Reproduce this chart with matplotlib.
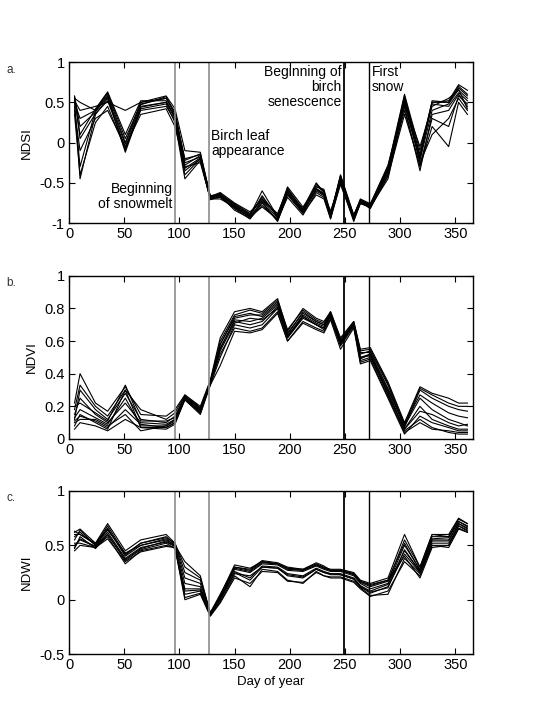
import matplotlib
matplotlib.use("Agg")
import matplotlib.pyplot as plt

plt.rcParams['font.family'] = ['Liberation Sans', 'DejaVu Sans']

# ── data ──────────────────────────────────────────────────────────────────────

days = [5, 10, 24, 35, 51, 65, 88, 96, 105, 119, 128, 137, 150, 164, 175, 189,
        198, 212, 224, 231, 237, 246, 258, 264, 273, 289, 304, 318, 329, 344,
        353, 361]

ndsi = [
    [0.55, 0.50, 0.40, 0.62, 0.05, 0.48, 0.55, 0.35, -0.20, -0.15, -0.68, -0.65, -0.78, -0.90, -0.60, -0.92, -0.60, -0.82, -0.50, -0.62, -0.90, -0.40, -0.90, -0.72, -0.78, -0.35, 0.55, -0.20, 0.50, 0.50, 0.70, 0.60],
    [0.50, -0.45, 0.35, 0.55, -0.10, 0.45, 0.50, 0.30, -0.35, -0.20, -0.70, -0.68, -0.82, -0.95, -0.75, -0.98, -0.65, -0.88, -0.65, -0.70, -0.95, -0.50, -0.98, -0.75, -0.80, -0.45, 0.45, -0.35, 0.35, 0.40, 0.60, 0.45],
    [0.45, -0.30, 0.40, 0.60, 0.00, 0.50, 0.55, 0.38, -0.25, -0.18, -0.66, -0.64, -0.76, -0.88, -0.70, -0.90, -0.55, -0.80, -0.55, -0.58, -0.88, -0.45, -0.92, -0.70, -0.76, -0.30, 0.60, -0.10, 0.50, 0.52, 0.72, 0.65],
    [0.58, 0.20, 0.38, 0.58, -0.12, 0.42, 0.48, 0.25, -0.45, -0.22, -0.70, -0.70, -0.80, -0.92, -0.80, -0.95, -0.62, -0.86, -0.60, -0.66, -0.92, -0.42, -0.95, -0.74, -0.82, -0.40, 0.50, -0.25, 0.10, 0.30, 0.55, 0.40],
    [0.52, 0.40, 0.45, 0.50, 0.40, 0.50, 0.58, 0.42, -0.10, -0.12, -0.67, -0.62, -0.75, -0.86, -0.72, -0.88, -0.58, -0.84, -0.58, -0.64, -0.85, -0.48, -0.90, -0.71, -0.77, -0.28, 0.50, -0.05, 0.45, 0.55, 0.65, 0.55],
    [0.40, -0.10, 0.30, 0.40, -0.05, 0.35, 0.42, 0.20, -0.30, -0.25, -0.69, -0.66, -0.84, -0.94, -0.78, -0.96, -0.68, -0.90, -0.62, -0.68, -0.93, -0.52, -0.96, -0.76, -0.80, -0.38, 0.40, -0.30, 0.20, -0.05, 0.50, 0.35],
    [0.55, 0.10, 0.42, 0.63, 0.10, 0.52, 0.52, 0.32, -0.28, -0.16, -0.68, -0.63, -0.79, -0.91, -0.66, -0.93, -0.62, -0.85, -0.52, -0.60, -0.91, -0.44, -0.93, -0.73, -0.79, -0.32, 0.58, -0.15, 0.52, 0.50, 0.68, 0.58],
    [0.35, -0.40, 0.25, 0.45, -0.08, 0.40, 0.45, 0.28, -0.40, -0.20, -0.71, -0.67, -0.81, -0.93, -0.74, -0.97, -0.64, -0.87, -0.58, -0.65, -0.94, -0.46, -0.94, -0.74, -0.81, -0.42, 0.35, -0.28, 0.30, 0.20, 0.58, 0.48],
    [0.50, 0.30, 0.40, 0.56, -0.02, 0.47, 0.57, 0.36, -0.22, -0.14, -0.67, -0.65, -0.77, -0.89, -0.68, -0.91, -0.57, -0.83, -0.54, -0.61, -0.89, -0.41, -0.91, -0.72, -0.77, -0.33, 0.52, -0.18, 0.48, 0.45, 0.62, 0.52],
    [0.57, 0.05, 0.36, 0.52, -0.06, 0.44, 0.50, 0.33, -0.32, -0.19, -0.69, -0.66, -0.80, -0.92, -0.72, -0.94, -0.61, -0.86, -0.57, -0.63, -0.90, -0.47, -0.93, -0.73, -0.79, -0.36, 0.48, -0.22, 0.40, 0.48, 0.66, 0.42],
]

ndvi = [
    [0.22, 0.40, 0.22, 0.17, 0.32, 0.15, 0.14, 0.18, 0.27, 0.20, 0.36, 0.62, 0.78, 0.80, 0.78, 0.86, 0.66, 0.80, 0.74, 0.72, 0.78, 0.62, 0.72, 0.55, 0.56, 0.35, 0.10, 0.32, 0.28, 0.25, 0.22, 0.22],
    [0.12, 0.30, 0.18, 0.12, 0.28, 0.12, 0.10, 0.14, 0.26, 0.18, 0.34, 0.58, 0.74, 0.76, 0.76, 0.84, 0.64, 0.78, 0.72, 0.70, 0.77, 0.60, 0.71, 0.52, 0.54, 0.33, 0.07, 0.30, 0.25, 0.20, 0.18, 0.17],
    [0.08, 0.15, 0.10, 0.06, 0.30, 0.07, 0.07, 0.10, 0.25, 0.17, 0.33, 0.50, 0.70, 0.68, 0.70, 0.80, 0.62, 0.74, 0.70, 0.68, 0.76, 0.58, 0.70, 0.48, 0.50, 0.28, 0.05, 0.12, 0.07, 0.04, 0.03, 0.03],
    [0.15, 0.25, 0.15, 0.10, 0.22, 0.10, 0.09, 0.12, 0.26, 0.18, 0.35, 0.55, 0.73, 0.72, 0.74, 0.82, 0.63, 0.76, 0.71, 0.69, 0.76, 0.59, 0.71, 0.50, 0.52, 0.30, 0.08, 0.25, 0.18, 0.12, 0.10, 0.08],
    [0.10, 0.12, 0.12, 0.08, 0.15, 0.05, 0.08, 0.11, 0.24, 0.16, 0.34, 0.52, 0.68, 0.66, 0.68, 0.78, 0.60, 0.72, 0.68, 0.66, 0.74, 0.57, 0.69, 0.47, 0.49, 0.26, 0.04, 0.10, 0.06, 0.05, 0.04, 0.04],
    [0.18, 0.33, 0.20, 0.14, 0.30, 0.18, 0.12, 0.16, 0.27, 0.19, 0.35, 0.60, 0.76, 0.79, 0.77, 0.85, 0.67, 0.79, 0.73, 0.71, 0.78, 0.61, 0.72, 0.54, 0.55, 0.34, 0.09, 0.31, 0.27, 0.22, 0.20, 0.20],
    [0.13, 0.18, 0.13, 0.09, 0.25, 0.08, 0.08, 0.12, 0.25, 0.17, 0.34, 0.56, 0.72, 0.70, 0.72, 0.81, 0.62, 0.75, 0.70, 0.68, 0.76, 0.58, 0.70, 0.50, 0.51, 0.29, 0.06, 0.20, 0.12, 0.08, 0.06, 0.06],
    [0.06, 0.10, 0.08, 0.05, 0.12, 0.07, 0.06, 0.09, 0.24, 0.15, 0.33, 0.45, 0.66, 0.65, 0.67, 0.77, 0.60, 0.71, 0.67, 0.65, 0.73, 0.55, 0.68, 0.46, 0.48, 0.25, 0.03, 0.14, 0.10, 0.07, 0.05, 0.05],
    [0.20, 0.22, 0.16, 0.11, 0.33, 0.11, 0.11, 0.13, 0.26, 0.19, 0.35, 0.58, 0.75, 0.77, 0.75, 0.83, 0.65, 0.77, 0.72, 0.70, 0.77, 0.60, 0.71, 0.53, 0.53, 0.31, 0.09, 0.27, 0.22, 0.16, 0.14, 0.13],
    [0.11, 0.14, 0.11, 0.07, 0.18, 0.09, 0.07, 0.10, 0.25, 0.16, 0.34, 0.54, 0.71, 0.74, 0.73, 0.80, 0.63, 0.75, 0.70, 0.67, 0.75, 0.59, 0.70, 0.49, 0.52, 0.27, 0.06, 0.17, 0.15, 0.10, 0.08, 0.09],
]

ndwi = [
    [0.62, 0.65, 0.52, 0.70, 0.45, 0.55, 0.60, 0.52, 0.30, 0.20, -0.12, 0.05, 0.30, 0.28, 0.36, 0.34, 0.30, 0.28, 0.33, 0.30, 0.28, 0.28, 0.25, 0.18, 0.15, 0.20, 0.60, 0.30, 0.60, 0.60, 0.75, 0.70],
    [0.45, 0.50, 0.48, 0.58, 0.33, 0.45, 0.50, 0.48, 0.00, 0.05, -0.15, -0.02, 0.22, 0.12, 0.28, 0.26, 0.18, 0.15, 0.26, 0.22, 0.20, 0.20, 0.16, 0.10, 0.03, 0.08, 0.35, 0.22, 0.50, 0.48, 0.65, 0.62],
    [0.58, 0.62, 0.50, 0.66, 0.40, 0.50, 0.56, 0.50, 0.15, 0.12, -0.13, 0.02, 0.28, 0.25, 0.33, 0.32, 0.27, 0.26, 0.31, 0.28, 0.26, 0.26, 0.22, 0.15, 0.10, 0.15, 0.50, 0.28, 0.58, 0.58, 0.72, 0.68],
    [0.50, 0.55, 0.49, 0.62, 0.38, 0.48, 0.53, 0.49, 0.05, 0.08, -0.14, 0.00, 0.25, 0.18, 0.30, 0.29, 0.22, 0.20, 0.28, 0.25, 0.23, 0.23, 0.19, 0.12, 0.06, 0.12, 0.42, 0.25, 0.52, 0.52, 0.68, 0.64],
    [0.60, 0.60, 0.51, 0.68, 0.42, 0.52, 0.58, 0.51, 0.20, 0.15, -0.12, 0.03, 0.29, 0.26, 0.34, 0.33, 0.28, 0.27, 0.32, 0.29, 0.27, 0.27, 0.23, 0.16, 0.12, 0.17, 0.55, 0.30, 0.60, 0.58, 0.74, 0.70],
    [0.47, 0.58, 0.47, 0.60, 0.36, 0.46, 0.52, 0.47, 0.10, 0.10, -0.14, 0.01, 0.26, 0.20, 0.31, 0.30, 0.24, 0.22, 0.29, 0.26, 0.24, 0.24, 0.20, 0.13, 0.08, 0.14, 0.45, 0.26, 0.55, 0.55, 0.70, 0.66],
    [0.55, 0.64, 0.50, 0.64, 0.43, 0.50, 0.55, 0.50, 0.35, 0.22, -0.13, 0.04, 0.32, 0.29, 0.35, 0.33, 0.29, 0.28, 0.34, 0.31, 0.27, 0.27, 0.24, 0.17, 0.14, 0.18, 0.40, 0.20, 0.48, 0.50, 0.66, 0.62],
    [0.52, 0.52, 0.48, 0.56, 0.35, 0.44, 0.49, 0.48, 0.02, 0.06, -0.15, -0.03, 0.20, 0.15, 0.26, 0.25, 0.17, 0.16, 0.25, 0.22, 0.21, 0.21, 0.17, 0.11, 0.04, 0.05, 0.38, 0.24, 0.50, 0.50, 0.68, 0.63],
    [0.63, 0.60, 0.52, 0.65, 0.41, 0.52, 0.57, 0.52, 0.25, 0.18, -0.12, 0.03, 0.30, 0.27, 0.35, 0.33, 0.29, 0.27, 0.32, 0.29, 0.27, 0.27, 0.24, 0.17, 0.13, 0.18, 0.52, 0.27, 0.56, 0.57, 0.72, 0.67],
    [0.48, 0.56, 0.49, 0.60, 0.37, 0.47, 0.54, 0.49, 0.08, 0.09, -0.14, 0.00, 0.24, 0.22, 0.30, 0.29, 0.23, 0.21, 0.28, 0.25, 0.24, 0.23, 0.19, 0.12, 0.07, 0.11, 0.46, 0.26, 0.54, 0.54, 0.70, 0.65],
]

# phenology event dates (day of year)
event_days = [96, 127, 249, 272]
event_colors = ['#8c8c8c', '#8c8c8c', 'black', 'black']
event_widths = [1.2, 1.2, 1.3, 1.0]

panel_letters = ['a.', 'b.', 'c.']
ylabels = ['NDSI', 'NDVI', 'NDWI']
ylims = [(-1, 1), (0, 1), (-0.5, 1)]
yticks = [[-1, -0.5, 0, 0.5, 1], [0, 0.2, 0.4, 0.6, 0.8, 1], [-0.5, 0, 0.5, 1]]
ytick_labels = [['-1', '-0.5', '0', '0.5', '1'],
                ['0', '0.2', '0.4', '0.6', '0.8', '1'],
                ['-0.5', '0', '0.5', '1']]
xticks = [0, 50, 100, 150, 200, 250, 300, 350]

# ── plot ──────────────────────────────────────────────────────────────────────

fig = plt.figure(figsize=(5.35, 7.22), dpi=100)

# axes boxes in figure fractions [left, bottom, width, height]
boxes = [[0.129, 0.691, 0.755, 0.223],
         [0.129, 0.392, 0.755, 0.226],
         [0.129, 0.094, 0.755, 0.226]]

for i, series in enumerate([ndsi, ndvi, ndwi]):
    ax = fig.add_axes(boxes[i])
    for s in series:
        ax.plot(days, s, color='black', lw=0.8)
    for d, c, w in zip(event_days, event_colors, event_widths):
        ax.axvline(d, color=c, lw=w)

    ax.set_xlim(0, 366)
    ax.set_ylim(*ylims[i])
    ax.set_xticks(xticks)
    ax.set_yticks(yticks[i])
    ax.set_yticklabels(ytick_labels[i])
    ax.tick_params(direction='in', top=True, right=True, length=4,
                   labelsize=10.5, pad=3)
    ax.set_ylabel(ylabels[i], fontsize=9.5, labelpad=5)
    for sp in ax.spines.values():
        sp.set_linewidth(1.0)

    fig.text(0.012, boxes[i][1] + boxes[i][3] - 0.002, panel_letters[i],
             fontsize=8.5, va='top', ha='left', color='#333333')

    if i == 0:
        ax.text(94, -0.49, 'Beginning\nof snowmelt', ha='right', va='top',
                fontsize=10, linespacing=1.1)
        ax.text(129, 0.17, 'Birch leaf\nappearance', ha='left', va='top',
                fontsize=10, linespacing=1.1)
        ax.text(247, 0.97, 'Beginning of\nbirch\nsenescence', ha='right',
                va='top', fontsize=10, linespacing=1.1)
        ax.text(274, 0.97, 'First\nsnow', ha='left', va='top',
                fontsize=10, linespacing=1.1)
    if i == 2:
        ax.set_xlabel('Day of year', fontsize=9.5, labelpad=3)

fig.savefig('out.png', dpi=100)
